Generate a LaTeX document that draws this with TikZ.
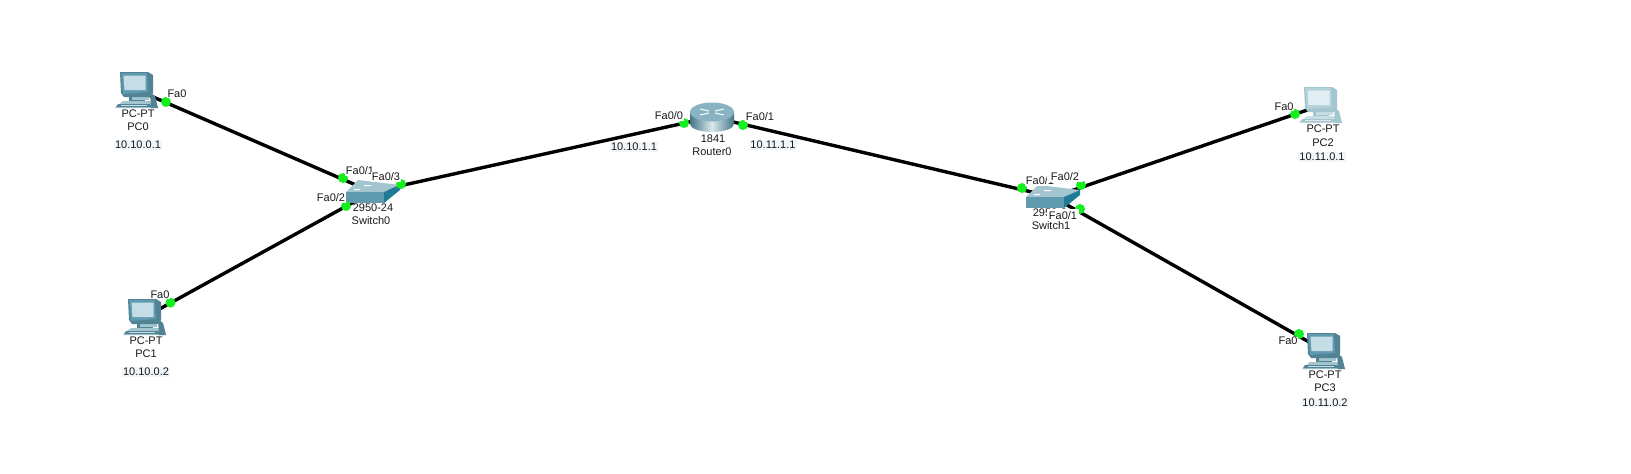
\documentclass[tikz,border=0pt]{standalone}
\usepackage{fontspec}
\setmainfont{Liberation Sans}
\definecolor{teal}{HTML}{5F9AAE}
\definecolor{teallight}{HTML}{A3C5D0}
\definecolor{screen}{HTML}{C4DDE6}
\definecolor{darkteal}{HTML}{1F7A96}
\definecolor{linkgreen}{HTML}{14F01E}
\definecolor{ipbg}{HTML}{F1F6FB}
\tikzset{
  x=1pt,y=-1pt,
  every node/.style={font=\fontsize{11}{12}\selectfont,inner sep=0.6pt,text=black!90},
  anchorpt/.style={inner sep=0,minimum size=0},
  link/.style={line width=3.4pt,black},
  portdot/.style={circle,fill=linkgreen,minimum size=10pt,inner sep=0},
  portlabel/.style={fill=white,inner sep=0.5pt},
  iplabel/.style={fill=ipbg,inner sep=1pt}
}
% PC icon: #1 = x, #2 = y of monitor top-left corner; #3 body, #4 frame, #5 screen, #6 base
\newcommand{\pcicon}[6]{%
\begin{scope}[shift={(#1,#2)}]
  \fill[#6] (3,29) -- (32,29) -- (38,36) -- (-5,36) -- cycle;
  \fill[#3] (-2,32) -- (30,32) -- (32,35) -- (-4,35) -- cycle;
  \fill[#6!60!white] (1,32.5) rectangle (27,34);
  \fill[#3] (30,20) -- (35,24) -- (38,36) -- (31,36) -- cycle;
  \fill[#3] (9,21) rectangle (25,29);
  \fill[#6] (12,24) rectangle (29,28);
  \fill[#3] (0,0) -- (28,0) -- (33,3) -- (33,21) -- (30,25) -- (4,25) -- (1,21) -- cycle;
  \fill[#4] (1,1) -- (27,1) -- (28,20) -- (3,22) -- cycle;
  \fill[#5] (3.5,3.5) -- (25.5,3.5) -- (25.5,18) -- (4.5,18) -- cycle;
\end{scope}}
% Switch icon: #1 = x, #2 = y of the front face top-left corner
\newcommand{\switchicon}[2]{%
\begin{scope}[shift={(#1,#2)}]
  \fill[teallight] (0,0) -- (12,-12) -- (54,-7) -- (38,0) -- cycle;
  \fill[white] (18,-7) rectangle (25,-6) (8,-3) rectangle (14,-2);
  \fill[teal] (0,0) rectangle (38,11);
  \fill[darkteal] (38,0) -- (54,-7) -- (54,-2) -- (38,11) -- cycle;
\end{scope}}
\begin{document}
\begin{tikzpicture}
\useasboundingbox (0,0) rectangle (1631,474);
\fill[white] (0,0) rectangle (1631,474);
% device reference points
\node[anchorpt] (pc0) at (137,90) {};
\node[anchorpt] (pc1) at (145,317) {};
\node[anchorpt] (pc2) at (1322,105) {};
\node[anchorpt] (pc3) at (1325,351) {};
\node[anchorpt] (sw0) at (372,192) {};
\node[anchorpt] (sw1) at (1053,197) {};
\node[anchorpt] (r0) at (712,117) {};
% links
\draw[link] (pc0) -- (sw0);
\draw[link] (pc1) -- (sw0);
\draw[link] (sw0) -- (r0);
\draw[link] (r0) -- (sw1);
\draw[link] (sw1) -- (pc2);
\draw[link] (sw1) -- (pc3);
% icons
\pcicon{120}{72}{teal!85!black}{teal}{screen}{teallight}
\pcicon{128}{299}{teal!85!black}{teal}{screen}{teallight}
\pcicon{1304}{87}{teallight}{teallight!80!white}{screen!50!white}{teallight!60!white}
\pcicon{1307}{333}{teal!85!black}{teal}{screen}{teallight}
\switchicon{346}{192}
\switchicon{1026}{197}
\shade[left color=darkteal!70!black!80,right color=darkteal!70!black!80,middle color=teallight!40!white] (690,112) -- (690,124) arc[start angle=180,end angle=0,x radius=22,y radius=8] -- (734,112) -- cycle;
\fill[teal!75!white] (712,112) ellipse[x radius=22,y radius=9.5];
\draw[white,line width=1pt] (700,109) -- (709,111) (715,113) -- (724,115) (700,115) -- (709,113) (715,111) -- (724,109);
% port dots
\node[portdot] (d1) at (166,102) {};
\node[portdot] (d2) at (343,178) {};
\node[portdot] (d3) at (346,206) {};
\node[portdot] (d4) at (170.5,302.6) {};
\node[portdot] (d5) at (401,184) {};
\node[portdot] (d6) at (684,123) {};
\node[portdot] (d7) at (743,125) {};
\node[portdot] (d8) at (1022,188) {};
\node[portdot] (d9) at (1081,185) {};
\node[portdot] (d10) at (1295,114) {};
\node[portdot] (d11) at (1080,209) {};
\node[portdot] (d12) at (1299,334) {};
% device labels
\node (t1) at (138,114) {PC-PT};
\node (t2) at (138,127) {PC0};
\node[iplabel] (t3) at (138,145) {10.10.0.1};
\node (t4) at (146,341) {PC-PT};
\node (t5) at (146,354) {PC1};
\node[iplabel] (t6) at (146,372) {10.10.0.2};
\node (t7) at (1323,129) {PC-PT};
\node (t8) at (1323,142.5) {PC2};
\node[iplabel] (t9) at (1322,157) {10.11.0.1};
\node (t10) at (1325,375) {PC-PT};
\node (t11) at (1325,388) {PC3};
\node[iplabel] (t12) at (1325,402.5) {10.11.0.2};
\node (t13) at (373,208) {2950-24};
\node (t14) at (371,221) {Switch0};
\node (t15) at (1053,213) {2950-24};
\node (t17) at (713,139) {1841};
\node (t18) at (712,152) {Router0};
\node[iplabel] (t19) at (634,147) {10.10.1.1};
\node[iplabel] (t20) at (773,145) {10.11.1.1};
% port labels
\node[portlabel] (p1) at (177,94) {Fa0};
\node[portlabel] (p2) at (360,171) {Fa0/1};
\node[portlabel] (p3) at (386,177) {Fa0/3};
\node[portlabel] (p4) at (331,198) {Fa0/2};
\node[portlabel] (p5) at (160,295) {Fa0};
\node[portlabel] (p6) at (669,116) {Fa0/0};
\node[portlabel] (p7) at (760,117) {Fa0/1};
\node[portlabel] (p8) at (1040,181) {Fa0/1};
\node[portlabel,inner xsep=4pt] (p9) at (1065,177) {Fa0/2};
\node[portlabel,inner xsep=1.5pt,inner ysep=2.5pt] (p10) at (1063,216) {Fa0/1};
\node[portlabel] (p11) at (1284,107) {Fa0};
\node[portlabel] (p12) at (1288,341) {Fa0};
\node (t16) at (1051,226) {Switch1};
\end{tikzpicture}
\end{document}
